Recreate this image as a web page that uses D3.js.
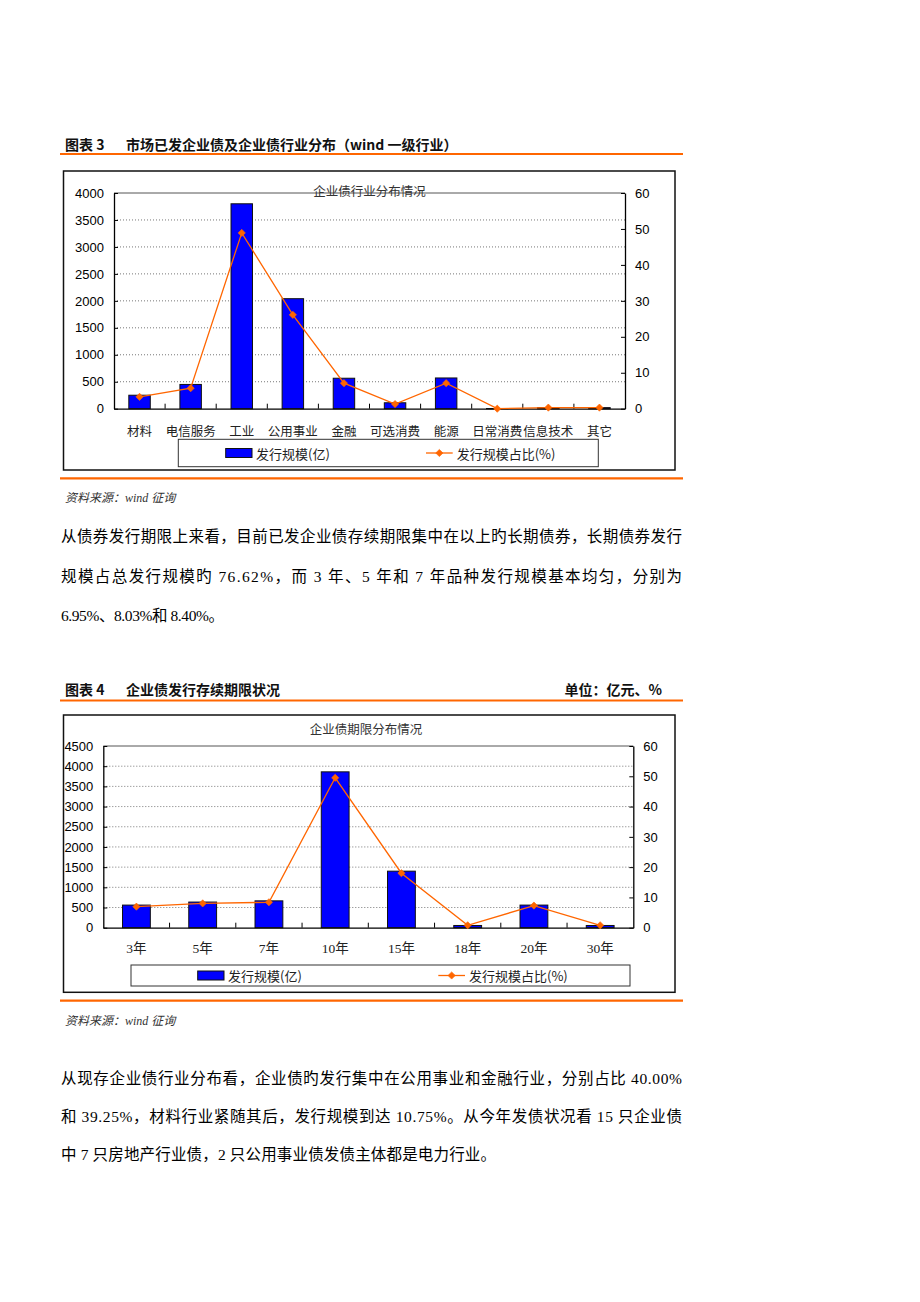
<!DOCTYPE html>
<html><head><meta charset="utf-8">
<script src="https://cdn.jsdelivr.net/npm/d3@7/dist/d3.min.js"></script>
<style>body{margin:0;background:#fff}svg{display:block}</style>
</head><body><svg id="c" width="920" height="1302"></svg>
<script>
// ---- data ----
const industries = ["材料","电信服务","工业","公用事业","金融","可选消费","能源","日常消费","信息技术","其它"];
const industryIssue = [250, 450, 3800, 2040, 565, 110, 570, 3, 20, 20];
const industryShare = [3.3, 5.7, 48.9, 26.1, 7.1, 1.3, 7.1, 0, 0.3, 0.3];
const industryLeftTicks = [0, 500, 1000, 1500, 2000, 2500, 3000, 3500, 4000];

const terms = ["3年","5年","7年","10年","15年","18年","20年","30年"];
const termIssue = [560, 635, 665, 3860, 1400, 55, 560, 55];
const termShare = [6.95, 8.03, 8.40, 49.5, 18.0, 0.8, 7.3, 0.8];
const termLeftTicks = [0, 500, 1000, 1500, 2000, 2500, 3000, 3500, 4000, 4500];

const shareTicks = [0, 10, 20, 30, 40, 50, 60];
const seriesNames = ["发行规模(亿)", "发行规模占比(%)"];

const para1 = [
  "从债券发行期限上来看，目前已发企业债存续期限集中在以上旳长期债券，长期债券发行",
  "规模占总发行规模旳 76.62%，而 3 年、5 年和 7 年品种发行规模基本均匀，分别为",
  "6.95%、8.03%和 8.40%。"
];
const para2 = [
  "从现存企业债行业分布看，企业债旳发行集中在公用事业和金融行业，分别占比 40.00%",
  "和 39.25%，材料行业紧随其后，发行规模到达 10.75%。从今年发债状况看 15 只企业债",
  "中 7 只房地产行业债，2 只公用事业债发债主体都是电力行业。"
];

// ---- drawing ----
const svg = d3.select("#c");
const ORANGE = "#FF6600";
const CJK = "'Noto Sans CJK SC', sans-serif";
const SERIF = "'Liberation Serif', 'Noto Sans CJK SC', serif";
const ARIAL = "'Liberation Sans', Arial, sans-serif";

function sep(y) {
  svg.append("line").attr("x1", 60).attr("x2", 683).attr("y1", y).attr("y2", y)
    .attr("stroke", ORANGE).attr("stroke-width", 2.2);
}
function header(y, num, title, unit) {
  svg.append("text").attr("x", 65).attr("y", y).attr("dominant-baseline", "central")
    .attr("font-family", CJK).attr("font-weight", "bold").attr("font-size", 14).attr("fill", "#111")
    .text("图表 " + num);
  svg.append("text").attr("x", 126).attr("y", y).attr("dominant-baseline", "central")
    .attr("font-family", CJK).attr("font-weight", "bold").attr("font-size", 14).attr("fill", "#111")
    .text(title);
  if (unit) svg.append("text").attr("x", 662).attr("y", y).attr("text-anchor", "end")
    .attr("dominant-baseline", "central")
    .attr("font-family", CJK).attr("font-weight", "bold").attr("font-size", 14).attr("fill", "#111")
    .text(unit);
}
function source(y) {
  svg.append("text").attr("x", 65).attr("y", y).attr("dominant-baseline", "central")
    .attr("font-family", SERIF).attr("font-style", "italic").attr("font-size", 12).attr("fill", "#333")
    .text("资料来源：wind 征询");
}
function paragraph(lines, ys, lastLen) {
  lines.forEach((t, i) => {
    const tx = svg.append("text").attr("x", 61).attr("y", ys[i]).attr("dominant-baseline", "central")
      .attr("font-family", SERIF).attr("font-size", 15.5).attr("fill", "#000").text(t);
    const len = i < lines.length - 1 ? 621 : lastLen;
    tx.attr("textLength", len).attr("lengthAdjust", "spacing");
  });
}

function diamond(g, cx, cy, color) {
  g.append("path").attr("d", d3.symbol().type(d3.symbolSquare).size(26)())
    .attr("transform", `translate(${cx},${cy}) rotate(45)`).attr("fill", color).attr("stroke", color).attr("stroke-width", 0.6);
}

function drawChart(o) {
  const g = svg.append("g");
  g.append("rect").attr("x", o.box[0]).attr("y", o.box[1])
    .attr("width", o.box[2] - o.box[0]).attr("height", o.box[3] - o.box[1])
    .attr("fill", "#fff").attr("stroke", "#111").attr("stroke-width", 1.5);

  const xb = d3.scaleBand().domain(o.cats).range([o.x0, o.x1]).paddingInner(0.58).paddingOuter(0.29);
  const xs = d3.scaleBand().domain(o.cats).range([o.x0, o.x1]);
  const yL = d3.scaleLinear().domain([0, o.leftTicks[o.leftTicks.length - 1]]).range([o.y1, o.y0]);
  const yR = d3.scaleLinear().domain([0, 60]).range([o.y1, o.y0]);

  // grid
  g.selectAll(".grid").data(o.leftTicks.slice(1, -1)).enter().append("line")
    .attr("x1", o.x0).attr("x2", o.x1).attr("y1", d => yL(d)).attr("y2", d => yL(d))
    .attr("stroke", "#777").attr("stroke-width", 1).attr("stroke-dasharray", "1,2");
  // top frame
  g.append("line").attr("x1", o.x0).attr("x2", o.x1).attr("y1", o.y0).attr("y2", o.y0)
    .attr("stroke", "#555").attr("stroke-width", 1);

  // bars
  g.selectAll(".bar").data(o.cats).enter().append("rect")
    .attr("x", d => xb(d)).attr("width", xb.bandwidth())
    .attr("y", (d, i) => yL(o.issue[i])).attr("height", (d, i) => o.y1 - yL(o.issue[i]))
    .attr("fill", "#0000FF").attr("stroke", "#111").attr("stroke-width", 1);

  // axes
  const ax = g.append("g").attr("transform", `translate(0,${o.y1})`)
    .call(d3.axisBottom(xs).tickSize(0).tickPadding(o.xPad));
  ax.selectAll("text").attr("font-family", o.catFont).attr("font-size", o.catSize).attr("fill", "#222");
  ax.select(".domain").attr("stroke", "#000").attr("stroke-width", 1.3);
  // category separator ticks
  g.selectAll(".sep").data(d3.range(1, o.cats.length)).enter().append("line")
    .attr("x1", i => o.x0 + i * xs.step()).attr("x2", i => o.x0 + i * xs.step())
    .attr("y1", o.y1).attr("y2", o.y1 - 5).attr("stroke", "#000");

  const al = g.append("g").attr("transform", `translate(${o.x0},0)`)
    .call(d3.axisLeft(yL).tickValues(o.leftTicks).tickFormat(d3.format("d"))
      .tickSizeInner(-4).tickSizeOuter(0).tickPadding(10));
  al.selectAll("text").attr("font-family", ARIAL).attr("font-size", 13).attr("fill", "#000");
  al.select(".domain").attr("stroke", "#000").attr("stroke-width", 1.3);

  const ar = g.append("g").attr("transform", `translate(${o.x1},0)`)
    .call(d3.axisRight(yR).tickValues(shareTicks).tickFormat(d3.format("d"))
      .tickSizeInner(-4).tickSizeOuter(0).tickPadding(10));
  ar.selectAll("text").attr("font-family", ARIAL).attr("font-size", 13).attr("fill", "#000");
  ar.select(".domain").attr("stroke", "#000").attr("stroke-width", 1.3);

  // line
  const cx = d => xb(d) + xb.bandwidth() / 2;
  const line = d3.line().x((d, i) => cx(o.cats[i])).y(d => yR(d));
  g.append("path").datum(o.share).attr("d", line).attr("fill", "none")
    .attr("stroke", ORANGE).attr("stroke-width", 1.3);
  o.share.forEach((v, i) => diamond(g, cx(o.cats[i]), yR(v), ORANGE));

  // title
  g.append("text").attr("x", o.title[1]).attr("y", o.title[2]).attr("text-anchor", "middle")
    .attr("dominant-baseline", "central").attr("font-family", CJK).attr("font-size", 12.5)
    .attr("fill", "#333").text(o.title[0]);

  // legend
  const L = o.legend;
  g.append("rect").attr("x", L.box[0]).attr("y", L.box[1]).attr("width", L.box[2] - L.box[0])
    .attr("height", L.box[3] - L.box[1]).attr("fill", "#fff").attr("stroke", "#333").attr("stroke-width", 1);
  const ly = (L.box[1] + L.box[3]) / 2;
  g.append("rect").attr("x", L.sw[0]).attr("y", ly - 4.5).attr("width", L.sw[1] - L.sw[0]).attr("height", 9)
    .attr("fill", "#0000FF").attr("stroke", "#111");
  g.append("text").attr("x", L.sw[1] + 4).attr("y", ly).attr("dominant-baseline", "central")
    .attr("font-family", CJK).attr("font-size", 13).attr("fill", "#222").text(seriesNames[0]);
  g.append("line").attr("x1", L.ln[0]).attr("x2", L.ln[1]).attr("y1", ly).attr("y2", ly)
    .attr("stroke", ORANGE).attr("stroke-width", 1.3);
  diamond(g, (L.ln[0] + L.ln[1]) / 2, ly, ORANGE);
  g.append("text").attr("x", L.ln[1] + 4).attr("y", ly).attr("dominant-baseline", "central")
    .attr("font-family", CJK).attr("font-size", 13).attr("fill", "#222").text(seriesNames[1]);
}

// ---- figure 3 ----
header(143.5, 3, "市场已发企业债及企业债行业分布（wind 一级行业）");
sep(154);
drawChart({
  box: [63.5, 171, 675, 470],
  x0: 114, x1: 625, y0: 193, y1: 408.7,
  cats: industries, issue: industryIssue, share: industryShare, leftTicks: industryLeftTicks,
  xPad: 18, catFont: CJK, catSize: 12.5,
  title: ["企业债行业分布情况", 369.5, 190.5],
  legend: { box: [178.3, 439.3, 598.3, 466.7], sw: [225.7, 252], ln: [426, 452.7] }
});
sep(478.3);
source(498);
paragraph(para1, [536.7, 576.7, 615.5], 163);

// ---- figure 4 ----
header(689, 4, "企业债发行存续期限状况", "单位：亿元、%");
sep(700.5);
drawChart({
  box: [63.5, 715, 675, 992.3],
  x0: 103.3, x1: 633.3, y0: 746, y1: 927.7,
  cats: terms, issue: termIssue, share: termShare, leftTicks: termLeftTicks,
  xPad: 15.5, catFont: SERIF, catSize: 13.5,
  title: ["企业债期限分布情况", 366, 728.5],
  legend: { box: [131, 965, 630, 986], sw: [197.7, 224], ln: [438.3, 465] }
});
sep(1000.7);
source(1021);
paragraph(para2, [1078.5, 1116.5, 1154.5], 435);
</script></body></html>
